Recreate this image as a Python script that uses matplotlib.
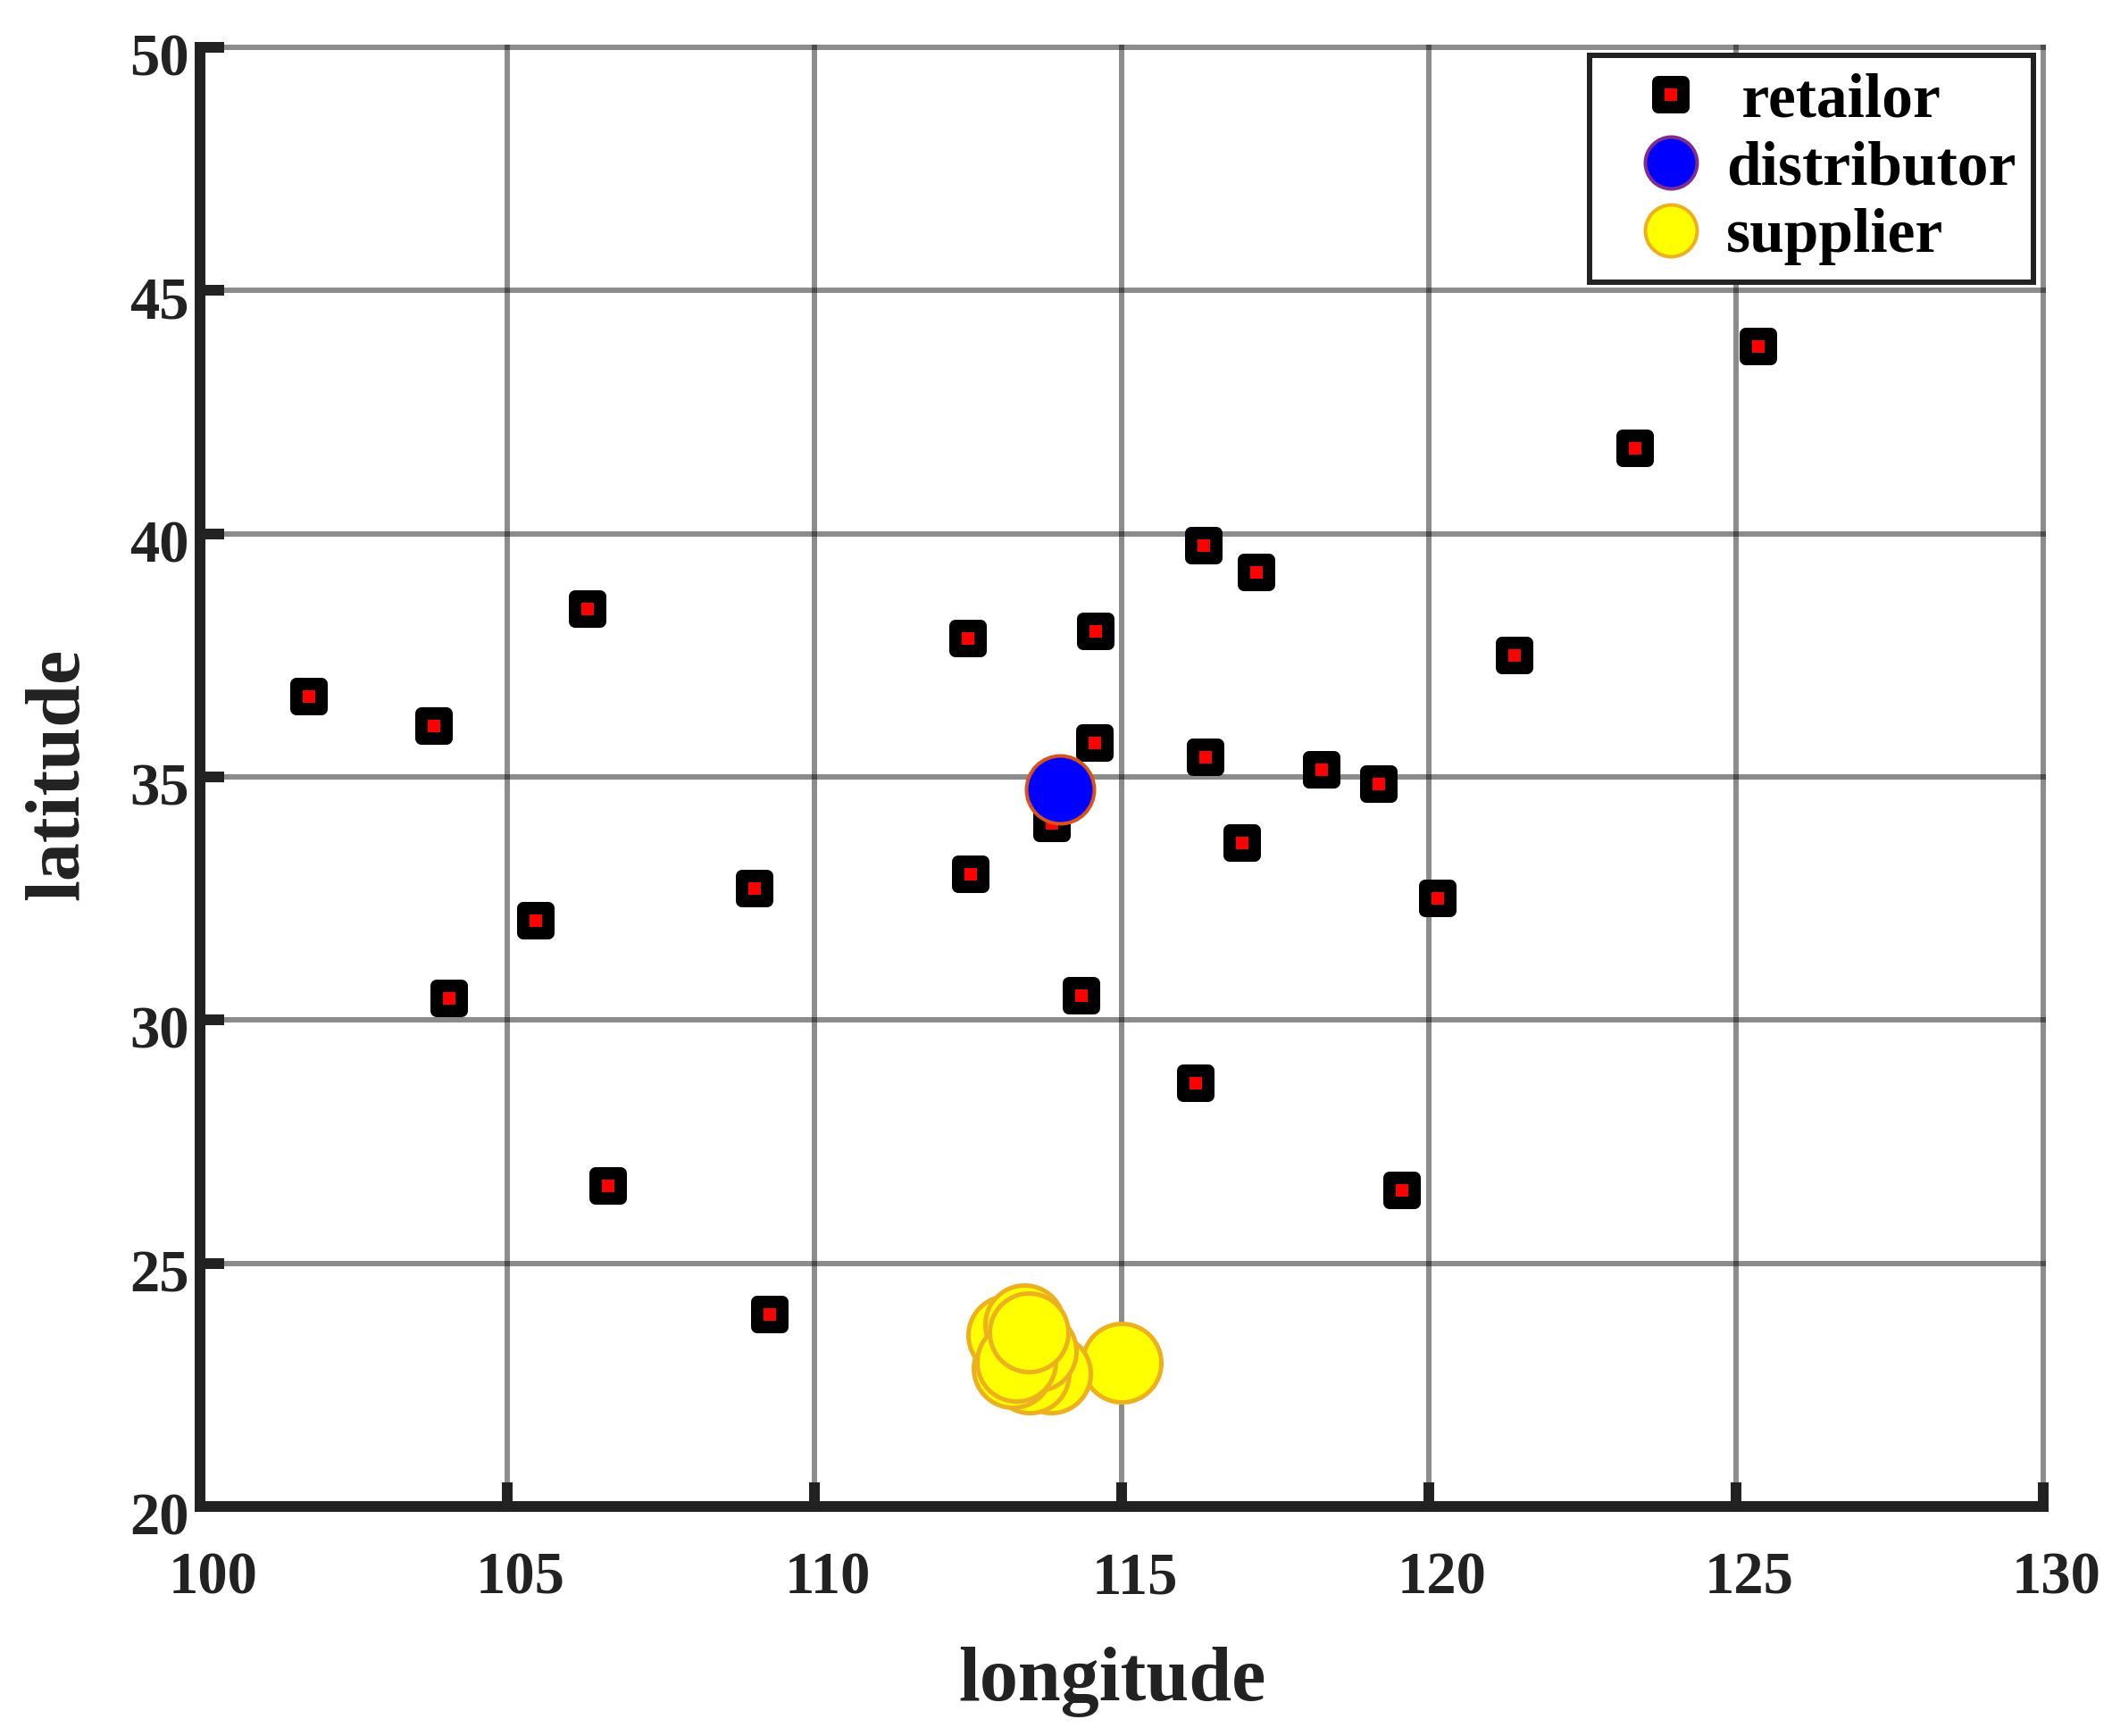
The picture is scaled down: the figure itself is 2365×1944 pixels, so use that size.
import matplotlib
matplotlib.use('Agg')
import matplotlib.pyplot as plt
from matplotlib.lines import Line2D
from matplotlib.markers import MarkerStyle
from matplotlib.transforms import ScaledTranslation

retailer_lon = [101.77, 103.81, 106.31, 105.47, 104.05, 106.64, 109.03, 109.28, 112.5, 112.55, 114.58, 114.56, 113.87,
                114.35, 116.34, 117.2, 116.36, 116.96, 116.21, 118.25, 119.18, 120.14, 119.57, 121.39, 123.36, 125.37]
retailer_lat = [36.65, 36.05, 38.45, 32.05, 30.45, 26.6, 32.7, 23.95, 37.85, 33.0, 38.0, 35.7, 34.05,
                30.5, 39.75, 39.2, 35.4, 33.65, 28.7, 35.15, 34.85, 32.5, 26.5, 37.5, 41.75, 43.85]
distributor_lon = [114.0]
distributor_lat = [34.75]
supplier_lon = [115.0, 113.85, 113.5, 113.22, 113.14, 113.62, 113.42, 113.29, 113.49]
supplier_lat = [22.96, 22.73, 22.73, 22.85, 23.52, 23.2, 23.74, 22.97, 23.58]
x_ticks = [100, 105, 110, 115, 120, 125, 130]
y_ticks = [20, 25, 30, 35, 40, 45, 50]

W, H = 2365, 1944
DPI = 100
px = 72 / DPI  # points per pixel
DARK = '#222222'

plt.rcParams['font.family'] = ['Liberation Serif', 'DejaVu Serif']
plt.rcParams['font.weight'] = 'bold'

fig = plt.figure(figsize=(W / DPI, H / DPI), dpi=DPI)
ax = fig.add_axes([224 / W, 1 - 1687 / H, (2288 - 224) / W, (1687 - 53) / H])

square = MarkerStyle('s', joinstyle='round')

ax.plot(retailer_lon, retailer_lat, ls='none', marker=square, ms=28 * px, mfc='red', mec='black',
        mew=14 * px, zorder=3, label='retailor')
ax.plot(distributor_lon, distributor_lat, ls='none', marker='o', ms=76 * px, mfc='blue', mec='#d95319',
        mew=4 * px, zorder=5)
for lon, lat in zip(supplier_lon, supplier_lat):
    ax.plot([lon], [lat], ls='none', marker='o', ms=88 * px, mfc='yellow', mec='#edb120',
            mew=5 * px, zorder=4)

ax.set_xlim(100, 130)
ax.set_ylim(20, 50)
ax.set_xticks(x_ticks)
ax.set_yticks(y_ticks)
ax.grid(True, color='black', alpha=0.45, lw=6 * px)
ax.set_axisbelow(True)
for line in ax.get_xgridlines() + ax.get_ygridlines():
    line.set_clip_on(False)

ax.spines['top'].set_visible(False)
ax.spines['right'].set_visible(False)
for side in ['left', 'bottom']:
    ax.spines[side].set_linewidth(12 * px)
    ax.spines[side].set_color(DARK)
    ax.spines[side].set_zorder(6)

ax.tick_params(axis='both', direction='in', length=27 * px, width=12 * px, color=DARK,
               labelcolor=DARK, labelsize=48)
ax.tick_params(axis='x', pad=50 * px)
ax.tick_params(axis='y', pad=12 * px)

x_shift = ScaledTranslation(15 / DPI, 0, fig.dpi_scale_trans)
y_shift = ScaledTranslation(0, -8 / DPI, fig.dpi_scale_trans)
for lab in ax.get_xticklabels():
    lab.set_transform(lab.get_transform() + x_shift)
for lab in ax.get_yticklabels():
    lab.set_transform(lab.get_transform() + y_shift)

ax.set_xlabel('longitude', fontsize=62, color=DARK, fontweight='bold')
ax.set_ylabel('latitude', fontsize=62, color=DARK, fontweight='bold')
ax.xaxis.set_label_coords((1246 - 224) / (2288 - 224), -(1844 - 1687) / (1687 - 53))
ax.yaxis.set_label_coords(-(224 - 106) / (2288 - 224), (1687 - 867) / (1687 - 53))

handles = [
    Line2D([], [], ls='none', marker=square, ms=28 * px, mfc='red', mec='black', mew=14 * px),
    Line2D([], [], ls='none', marker='o', ms=58 * px, mfc='blue', mec='#7e2f8e', mew=4 * px),
    Line2D([], [], ls='none', marker='o', ms=58 * px, mfc='yellow', mec='#edb120', mew=4 * px),
]
leg = ax.legend(handles, [' retailor', 'distributor', 'supplier'], loc='upper right',
                bbox_to_anchor=(2277 / W, 1 - 62 / H), bbox_transform=fig.transFigure, fontsize=50,
                fancybox=False, framealpha=1, edgecolor=DARK, labelspacing=0.17, handletextpad=-0.12,
                borderpad=0.28, borderaxespad=0, handlelength=2.04, labelcolor='black')
leg.get_frame().set_linewidth(6 * px)
leg.set_zorder(8)

fig.savefig('out.png', dpi=DPI)
